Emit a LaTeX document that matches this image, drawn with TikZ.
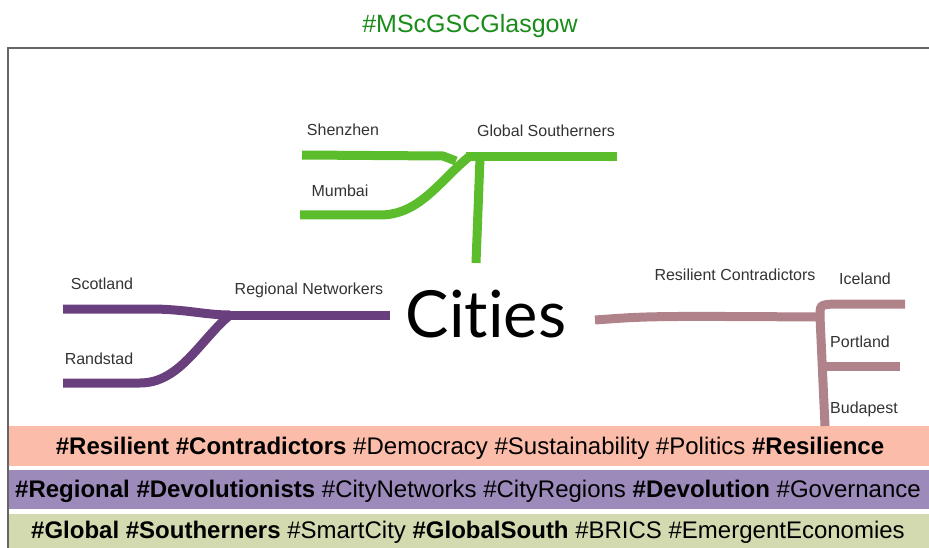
\documentclass[tikz,border=0pt]{standalone}
\usepackage{fontspec}
\setmainfont{Liberation Sans}
\newfontfamily\citiesfont[Ligatures={NoCommon,NoRare}]{Lato}
\begin{document}
\begin{tikzpicture}[x=1pt,y=-1pt,
  branch/.style={line width=9pt},
  gline/.style={branch,draw=gcol},
  pline/.style={branch,draw=pcol},
  mline/.style={branch,draw=mcol},
  lbl/.style={font=\fontsize{16}{18}\selectfont,text=black!80},
  band/.style={inner sep=0pt},
  bandtext/.style={font=\fontsize{24}{28}\selectfont,text=black,inner sep=0pt}]
\definecolor{gcol}{HTML}{5BBD2B}
\definecolor{pcol}{HTML}{6A3F7E}
\definecolor{mcol}{HTML}{B08289}
\definecolor{salmon}{HTML}{FBBCA9}
\definecolor{lilac}{HTML}{9B8ABA}
\definecolor{sage}{HTML}{D3DAB0}
\definecolor{titlegreen}{HTML}{1A8C1A}
\definecolor{framegray}{HTML}{666666}
\useasboundingbox (0,0) rectangle (929,548);
% title
\node[font=\fontsize{25}{30}\selectfont,text=titlegreen] (title) at (470,26) {\#MScGSCGlasgow};
% frame
\draw[framegray,line width=1.5pt] (8,548) -- (8,48) -- (929,48);
% bands
\fill[salmon] (9,426) rectangle (929,466);
\fill[lilac] (9,470) rectangle (929,509);
\fill[sage] (9,514) rectangle (929,548);
\node[bandtext] (b1) at (470,448) {\textbf{\#Resilient \#Contradictors} \#Democracy \#Sustainability \#Politics \textbf{\#Resilience}};
\node[bandtext] (b2) at (468,491) {\textbf{\#Regional \#Devolutionists} \#CityNetworks \#CityRegions \textbf{\#Devolution} \#Governance};
\node[bandtext] (b3) at (468,532) {\textbf{\#Global \#Southerners} \#SmartCity \textbf{\#GlobalSouth} \#BRICS \#EmergentEconomies};
% Cities
\node[font=\citiesfont\fontsize{65}{70}\selectfont,text=black] (cities) at (486,314) {Cit\kern0pt ies};
% green branch
\coordinate (gj) at (470,156);
\coordinate (shenA) at (302,155);
\coordinate (shenB) at (443,156);
\coordinate (mumA) at (300,215);
\coordinate (mumB) at (380,215);
\coordinate (gsEnd) at (617,157);
\coordinate (gTop) at (480,158);
\coordinate (gBot) at (476,263);
\draw[gline] (shenA) -- (shenB) -- (456,161);
\draw[gline] (mumA) -- (mumB) .. controls (420,215) and (440,180) .. (gj);
\draw[gline] (466,157) -- (gsEnd);
\draw[gline] (gTop) -- (gBot);
\node[lbl] (shen) at (343,130) {Shenzhen};
\node[lbl] (mum) at (340,191) {Mumbai};
\node[lbl] (gs) at (546,131) {Global Southerners};
% purple branch
\coordinate (pj) at (230,315);
\coordinate (scoA) at (63,309);
\coordinate (scoB) at (150,309);
\coordinate (ranA) at (63,383);
\coordinate (ranB) at (140,383);
\coordinate (rnEnd) at (390,315);
\draw[pline] (scoA) -- (scoB) .. controls (185,309) and (205,315) .. (pj);
\draw[pline] (ranA) -- (ranB) .. controls (180,383) and (200,340) .. (pj);
\draw[pline] (pj) -- (rnEnd);
\node[lbl] (sco) at (102,284) {Scotland};
\node[lbl] (ran) at (99,359) {Randstad};
\node[lbl] (rn) at (309,290) {Regional Networkers};
% mauve branch
\coordinate (mA) at (595,320);
\coordinate (mj) at (820,317);
\coordinate (iceA) at (833,304);
\coordinate (iceB) at (905,304);
\coordinate (porA) at (824,366);
\coordinate (porB) at (900,366);
\coordinate (mBot) at (825,426);
\draw[mline] (mA) .. controls (650,316) .. (mj);
\draw[mline] (mBot) -- (mj) .. controls (820,305) .. (iceA) -- (iceB);
\draw[mline] (porA) -- (porB);
\node[lbl] (rc) at (735,275) {Resilient Contradictors};
\node[lbl] (ice) at (865,279) {Iceland};
\node[lbl] (por) at (860,342) {Portland};
\node[lbl] (bud) at (864,409) {Budapest};
\end{tikzpicture}
\end{document}
